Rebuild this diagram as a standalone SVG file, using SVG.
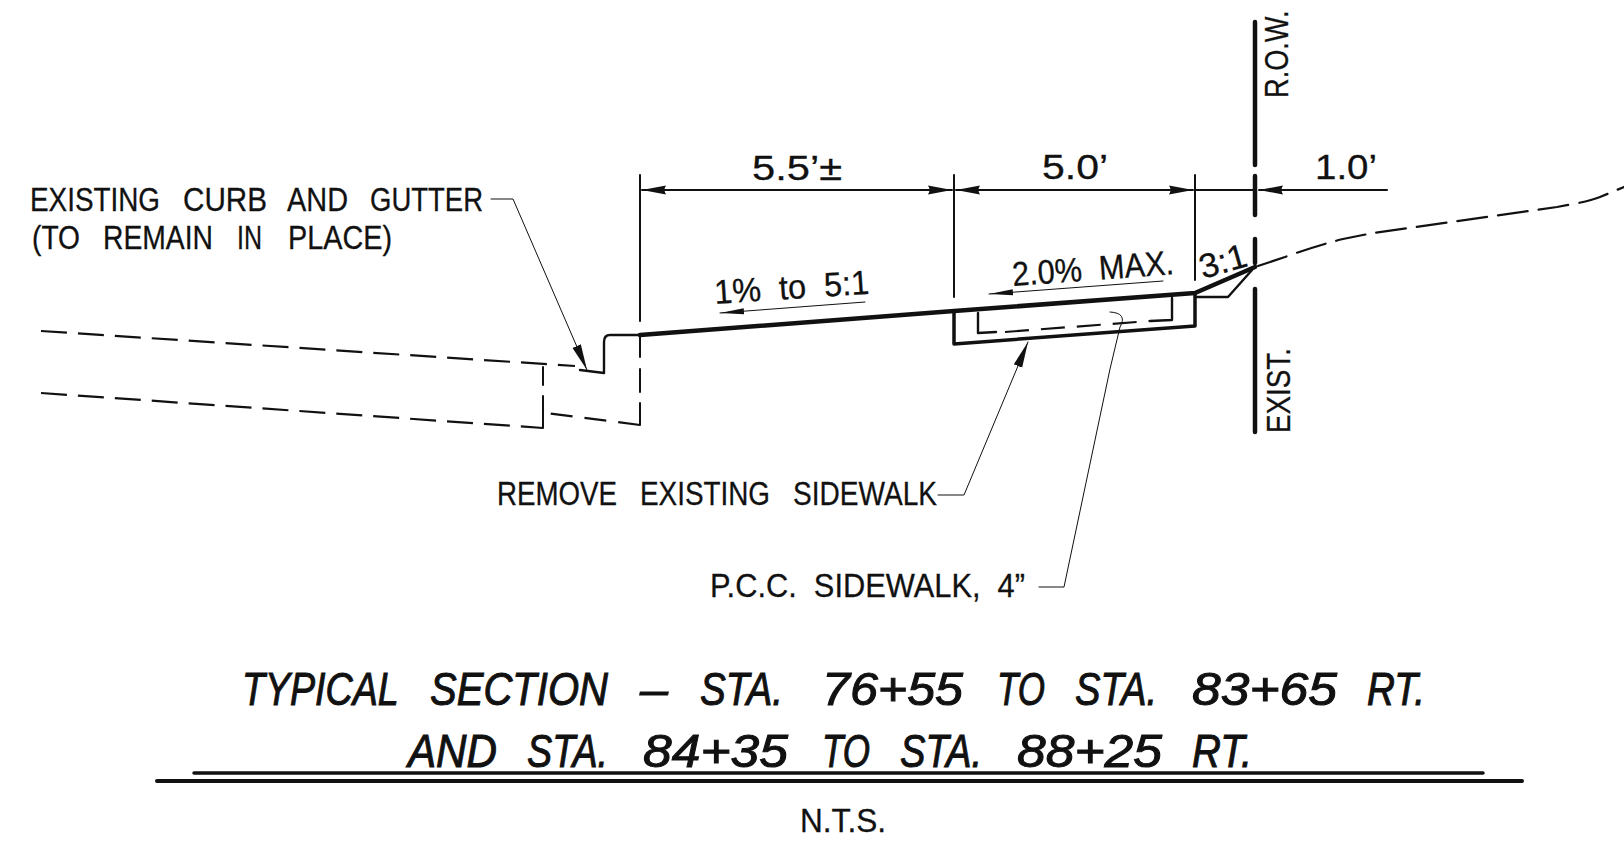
<svg xmlns="http://www.w3.org/2000/svg" width="1624" height="860" viewBox="0 0 1624 860">
<style>
.l{fill:none;stroke:#111;stroke-linecap:round;stroke-linejoin:round}
.dim{stroke-width:2}
.thin{stroke-width:1}
.med{stroke-width:2.4}
.thick{stroke-width:4.5}
.row{stroke-width:4.5}
.dash{stroke-width:2.2;stroke-dasharray:26 11;stroke-linecap:butt}
text{font-family:"Liberation Sans",Arial,sans-serif;fill:#111;white-space:pre}
.t{font-size:34px;stroke:#111;stroke-width:.3px}
.d{font-size:35px;stroke:#111;stroke-width:.3px}
.h{font-size:46px;font-style:italic;stroke:#111;stroke-width:1px}
</style>
<defs>
<marker id="a" markerUnits="userSpaceOnUse" markerWidth="26" markerHeight="12" refX="24" refY="6" orient="auto-start-reverse"><path d="M0,1.5 Q3,6 0,10.5 L24,6Z" fill="#111"/></marker>
<marker id="b" markerUnits="userSpaceOnUse" markerWidth="26" markerHeight="12" refX="24" refY="6" orient="auto-start-reverse"><path d="M0,3 L24,6 L0,9Z" fill="#111"/></marker>
<marker id="c" markerUnits="userSpaceOnUse" markerWidth="28" markerHeight="14" refX="26" refY="7" orient="auto"><path d="M0,2.5 L26,7 L0,11.5Z" fill="#111"/></marker>
</defs>
<g id="connectors">
<g id="dimensions">
<path class="l dim" d="M640,175V321M954,175V297M1195,175V280"/>
<path class="l dim" d="M642,190H952" marker-start="url(#a)" marker-end="url(#a)"/>
<path class="l dim" d="M956,190H1193" marker-start="url(#a)" marker-end="url(#a)"/>
<path class="l dim" d="M1195,190H1255"/>
<path class="l dim" d="M1259,190H1387" marker-start="url(#a)"/>
</g>
<g id="row-line">
<path class="l row" d="M1255,22V165M1255,176V215M1255,239V263M1255,289V432"/>
</g>
<g id="section">
<path class="l thick" d="M640,335L954,311L1195,293L1255,267"/>
<path class="l thick" style="stroke-width:3.5" d="M954,311V344L1195,326V293"/>
<path class="l med" d="M640,335H610Q604,335 604,342V373L580,370"/>
<path class="l med" d="M1195,297H1228L1252,270"/>
<path class="l med" d="M1172,298V320L1150,321M978,313V333L996,332"/>
<path class="l dash" style="stroke-dasharray:24 12" d="M1005,332L1150,321"/>
<path class="l dash" d="M41,331L575,366"/>
<path class="l dash" d="M41,393L543,428"/>
<path class="l dash" style="stroke-dasharray:22 12" d="M640,425L546,413"/>
<path class="l dim" d="M640,425V403M640,392V369M640,357V336"/>
<path class="l dim" d="M543,367V385M543,396V428"/>
<path class="l dash" style="stroke-dasharray:30 11;stroke-linecap:round" d="M1258,266L1285,257Q1315,246 1343,239L1373,233L1557,207L1573,204Q1590,201 1600,197L1624,187"/>
</g>
<g id="leaders">
<path class="l thin" d="M491,199H513L587,370" marker-end="url(#c)"/>
<path class="l thin" d="M938,495H964L1028,342" marker-end="url(#c)"/>
<path class="l thin" d="M1039,587H1064L1110,369L1120,327Q1128,313 1110,312"/>
<path class="l thin" d="M865,302L720,313" marker-end="url(#b)"/>
<path class="l thin" d="M1163,281L989,294" marker-end="url(#b)"/>
</g>
</g>
<g id="label-curb">
<text class="t" y="211"><tspan x="30" textLength="130" lengthAdjust="spacingAndGlyphs">EXISTING</tspan> <tspan x="183" textLength="84" lengthAdjust="spacingAndGlyphs">CURB</tspan> <tspan x="287" textLength="61" lengthAdjust="spacingAndGlyphs">AND</tspan> <tspan x="370" textLength="113" lengthAdjust="spacingAndGlyphs">GUTTER</tspan></text>
<text class="t" y="249"><tspan x="32" textLength="48" lengthAdjust="spacingAndGlyphs">(TO</tspan> <tspan x="103" textLength="110" lengthAdjust="spacingAndGlyphs">REMAIN</tspan> <tspan x="237" textLength="25" lengthAdjust="spacingAndGlyphs">IN</tspan> <tspan x="288" textLength="104" lengthAdjust="spacingAndGlyphs">PLACE)</tspan></text>
</g>
<g id="label-remove"><text class="t" y="505"><tspan x="497" textLength="120" lengthAdjust="spacingAndGlyphs">REMOVE</tspan> <tspan x="640" textLength="130" lengthAdjust="spacingAndGlyphs">EXISTING</tspan> <tspan x="793" textLength="144" lengthAdjust="spacingAndGlyphs">SIDEWALK</tspan></text></g>
<g id="label-pcc"><text class="t" y="597" x="710" textLength="315" lengthAdjust="spacingAndGlyphs">P.C.C.  SIDEWALK,  4”</text></g>
<g id="dim-55"><text class="d" x="752" y="180" textLength="90" lengthAdjust="spacingAndGlyphs">5.5’±</text></g>
<g id="dim-50"><text class="d" x="1042" y="179" textLength="66" lengthAdjust="spacingAndGlyphs">5.0’</text></g>
<g id="dim-10"><text class="d" x="1315" y="179" textLength="62" lengthAdjust="spacingAndGlyphs">1.0’</text></g>
<g id="slope-1"><text class="t" transform="translate(715,304) rotate(-3.8)" textLength="155" lengthAdjust="spacingAndGlyphs">1%  to  5:1</text></g>
<g id="slope-2"><text class="t" transform="translate(1013,286) rotate(-4.2)" textLength="162" lengthAdjust="spacingAndGlyphs">2.0%  MAX.</text></g>
<g id="slope-3"><text class="t" transform="translate(1203,279) rotate(-16)" textLength="48" lengthAdjust="spacingAndGlyphs">3:1</text></g>
<g id="label-row"><text class="t" transform="translate(1288,98) rotate(-90) scale(.8,1)">R.O.W.</text></g>
<g id="label-exist"><text class="t" transform="translate(1290,433) rotate(-90)" textLength="85" lengthAdjust="spacingAndGlyphs">EXIST.</text></g>
<g id="title">
<text class="h" y="705"><tspan x="242" textLength="156" lengthAdjust="spacingAndGlyphs">TYPICAL</tspan> <tspan x="430" textLength="178" lengthAdjust="spacingAndGlyphs">SECTION</tspan> <tspan x="640" textLength="28" lengthAdjust="spacingAndGlyphs">–</tspan> <tspan x="700" textLength="83" lengthAdjust="spacingAndGlyphs">STA.</tspan> <tspan x="822" textLength="141" lengthAdjust="spacingAndGlyphs">76+55</tspan> <tspan x="997" textLength="48" lengthAdjust="spacingAndGlyphs">TO</tspan> <tspan x="1075" textLength="82" lengthAdjust="spacingAndGlyphs">STA.</tspan> <tspan x="1192" textLength="145" lengthAdjust="spacingAndGlyphs">83+65</tspan> <tspan x="1367" textLength="58" lengthAdjust="spacingAndGlyphs">RT.</tspan></text>
<text class="h" y="767"><tspan x="408" textLength="89" lengthAdjust="spacingAndGlyphs">AND</tspan> <tspan x="527" textLength="81" lengthAdjust="spacingAndGlyphs">STA.</tspan> <tspan x="643" textLength="145" lengthAdjust="spacingAndGlyphs">84+35</tspan> <tspan x="822" textLength="48" lengthAdjust="spacingAndGlyphs">TO</tspan> <tspan x="900" textLength="82" lengthAdjust="spacingAndGlyphs">STA.</tspan> <tspan x="1017" textLength="145" lengthAdjust="spacingAndGlyphs">88+25</tspan> <tspan x="1192" textLength="60" lengthAdjust="spacingAndGlyphs">RT.</tspan></text>
<path class="l" style="stroke-width:3.5" d="M194,773H1483"/>
<path class="l" style="stroke-width:4" d="M157,781H1522"/>
</g>
<g id="label-nts"><text class="t" x="800" y="832" textLength="86" lengthAdjust="spacingAndGlyphs">N.T.S.</text></g>
</svg>
